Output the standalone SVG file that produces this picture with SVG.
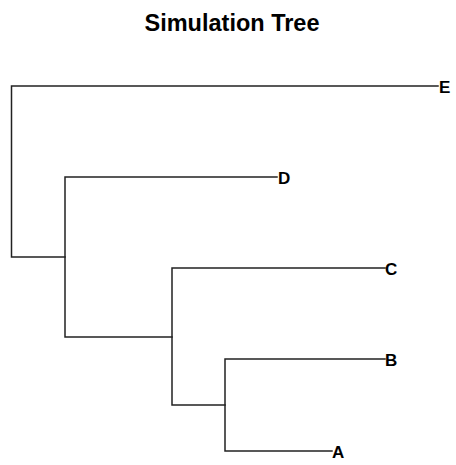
<svg xmlns="http://www.w3.org/2000/svg" width="456" height="465" viewBox="0 0 456 465">
<style>
.e{fill:none;stroke:#222;stroke-width:1.5;stroke-linecap:square}
.l{font-family:"Liberation Sans",Arial,sans-serif;font-weight:bold;font-size:17px;fill:#000}
.t{font-family:"Liberation Sans",Arial,sans-serif;font-weight:bold;font-size:23.5px;fill:#000;text-anchor:middle}
</style>
<rect width="456" height="465" fill="#fff"/>
<text class="t" x="232" y="31">Simulation Tree</text>
<g id="edges">
<path class="e" d="M438,86 H11.5 V257 H65"/>
<path class="e" d="M277,177 H65 V337 H172"/>
<path class="e" d="M385,268 H172 V405 H225"/>
<path class="e" d="M385,359 H225 V451 H332"/>
</g>
<g id="E"><text class="l" x="439" y="92.5">E</text></g>
<g id="D"><text class="l" x="278" y="183.5">D</text></g>
<g id="C"><text class="l" x="385" y="274.5">C</text></g>
<g id="B"><text class="l" x="385" y="365.5">B</text></g>
<g id="A"><text class="l" x="332" y="457.5">A</text></g>
</svg>
